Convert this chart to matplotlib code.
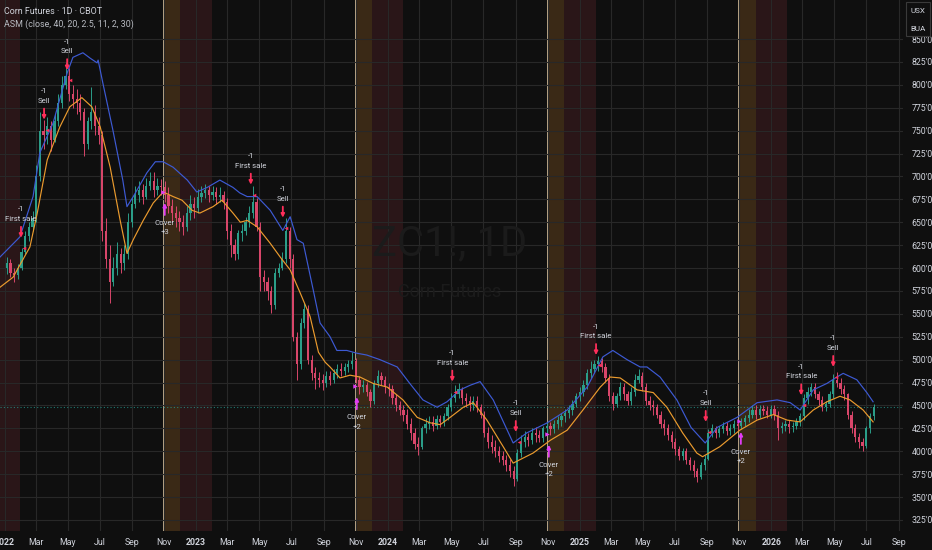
import numpy as np
import pandas as pd
import matplotlib
matplotlib.use("Agg")
import matplotlib.pyplot as plt
import matplotlib.dates as mdates
from matplotlib.ticker import FuncFormatter
from matplotlib.patches import Rectangle
from matplotlib.transforms import ScaledTranslation
from matplotlib import font_manager

avail = {f.name for f in font_manager.fontManager.ttflist}
FAM = [f for f in ["Liberation Sans Narrow", "Roboto", "DejaVu Sans"] if f in avail] or ["DejaVu Sans"]
plt.rcParams["font.family"] = FAM

# ---------------- data ----------------
first_week = "2022-01-05"
first_open = 600
closes = [
    605, 595, 592, 600, 618, 635, 645, 655, 700, 750,
    745, 755, 740, 760, 780, 800, 810, 790, 785, 780,
    770, 735, 760, 770, 755, 745, 640, 610, 585, 600,
    615, 605, 615, 650, 670, 680, 685, 678, 690, 695,
    685, 690, 688, 680, 668, 660, 655, 650, 645, 660,
    670, 665, 678, 682, 685, 680, 683, 678, 680, 672,
    640, 625, 615, 638, 640, 650, 660, 672, 645, 590,
    585, 575, 560, 595, 600, 610, 640, 610, 525, 495,
    540, 555, 500, 485, 480, 478, 475, 482, 478, 485,
    490, 488, 492, 495, 498, 478, 470, 472, 465, 455,
    475, 482, 478, 470, 468, 458, 450, 445, 440, 430,
    420, 408, 405, 425, 430, 432, 428, 435, 432, 438,
    448, 458, 462, 468, 458, 455, 450, 455, 448, 440,
    420, 410, 405, 400, 395, 390, 385, 378, 370, 398,
    410, 415, 412, 420, 418, 414, 425, 428, 424, 430,
    434, 438, 442, 445, 452, 460, 465, 472, 485, 490,
    495, 498, 492, 480, 460, 452, 460, 470, 462, 455,
    465, 478, 482, 470, 455, 450, 448, 440, 430, 425,
    418, 410, 402, 395, 400, 390, 385, 378, 372, 385,
    392, 420, 425, 420, 424, 428, 422, 425, 430, 428,
    432, 436, 440, 445, 440, 446, 444, 440, 446, 440,
    425, 428, 430, 426, 428, 432, 438, 458, 465, 470,
    462, 456, 448, 452, 462, 478, 475, 468, 462, 440,
    425, 415, 410, 406, 425, 438, 448,
]
highs = [
    612, 610, 600, 604, 622, 640, 650, 662, 712, 770,
    762, 765, 760, 768, 790, 810, 825, 818, 800, 795,
    790, 775, 765, 798, 778, 765, 750, 655, 625, 612,
    628, 622, 625, 660, 678, 690, 695, 692, 698, 705,
    705, 698, 697, 695, 688, 675, 668, 662, 658, 668,
    680, 678, 686, 690, 692, 690, 690, 688, 688, 684,
    676, 648, 632, 642, 648, 656, 668, 690, 676, 650,
    598, 590, 580, 600, 606, 618, 655, 645, 615, 530,
    545, 562, 560, 505, 492, 486, 484, 488, 488, 490,
    495, 496, 496, 500, 508, 502, 482, 478, 476, 468,
    478, 489, 486, 482, 475, 472, 462, 455, 450, 446,
    436, 425, 415, 428, 436, 438, 438, 440, 440, 442,
    452, 464, 472, 474, 470, 464, 460, 460, 460, 452,
    444, 426, 418, 412, 406, 400, 396, 392, 384, 402,
    418, 422, 420, 425, 426, 423, 428, 432, 432, 434,
    438, 442, 446, 450, 456, 464, 470, 478, 490, 498,
    500, 504, 502, 496, 484, 465, 464, 476, 474, 466,
    470, 484, 490, 486, 474, 460, 456, 452, 444, 435,
    430, 422, 414, 406, 404, 404, 394, 390, 382, 388,
    396, 424, 430, 428, 428, 432, 432, 430, 434, 434,
    436, 440, 446, 450, 450, 450, 450, 449, 450, 450,
    444, 432, 434, 434, 432, 436, 442, 462, 470, 475,
    474, 466, 460, 455, 466, 484, 486, 480, 472, 464,
    444, 430, 420, 414, 428, 442, 452,
]
lows = [
    594, 590, 585, 588, 598, 615, 630, 640, 650, 695,
    730, 735, 728, 738, 755, 775, 795, 782, 775, 768,
    762, 722, 730, 752, 745, 735, 630, 600, 562, 580,
    592, 595, 598, 610, 645, 665, 672, 670, 675, 685,
    678, 680, 680, 672, 660, 650, 645, 640, 636, 640,
    652, 655, 660, 672, 676, 672, 674, 670, 672, 664,
    632, 612, 609, 610, 630, 636, 645, 655, 640, 575,
    575, 565, 551, 555, 590, 598, 605, 600, 520, 478,
    490, 535, 495, 478, 468, 470, 467, 470, 472, 474,
    480, 482, 483, 486, 490, 474, 463, 465, 460, 448,
    452, 470, 472, 464, 460, 452, 444, 440, 433, 424,
    412, 402, 396, 402, 420, 424, 422, 424, 426, 428,
    434, 444, 454, 458, 452, 448, 444, 445, 443, 436,
    415, 404, 398, 394, 388, 385, 378, 372, 362, 368,
    394, 405, 406, 408, 410, 410, 410, 420, 418, 420,
    424, 428, 432, 436, 440, 448, 455, 460, 468, 480,
    485, 488, 486, 476, 455, 445, 448, 456, 456, 450,
    450, 460, 474, 466, 450, 445, 440, 436, 425, 418,
    412, 404, 396, 390, 390, 386, 380, 372, 366, 370,
    380, 390, 416, 414, 416, 420, 418, 418, 420, 422,
    424, 428, 432, 436, 435, 436, 439, 436, 436, 434,
    412, 420, 422, 420, 421, 424, 428, 434, 452, 460,
    458, 450, 444, 444, 448, 458, 470, 462, 456, 435,
    420, 410, 404, 400, 404, 420, 434,
]

upper_dates = [
    "2021-12-23", "2022-01-30", "2022-02-24", "2022-03-09", "2022-04-03", "2022-04-30",
    "2022-05-11", "2022-05-30", "2022-06-13", "2022-06-26", "2022-06-28", "2022-07-07",
    "2022-07-26", "2022-08-14", "2022-08-22", "2022-09-03", "2022-09-29", "2022-10-15",
    "2022-10-30", "2022-11-18", "2022-12-15", "2023-01-02", "2023-01-22", "2023-02-15",
    "2023-03-12", "2023-03-25", "2023-04-08", "2023-04-27", "2023-05-22", "2023-06-15",
    "2023-06-29", "2023-07-12", "2023-07-24", "2023-08-12", "2023-08-25", "2023-09-13",
    "2023-09-26", "2023-10-15", "2023-11-03", "2023-11-22", "2023-12-17", "2024-01-19",
    "2024-02-12", "2024-03-08", "2024-04-04", "2024-04-23", "2024-05-18", "2024-06-06",
    "2024-06-25", "2024-07-20", "2024-08-27", "2024-09-22", "2024-10-31", "2024-12-08",
    "2025-01-15", "2025-02-14", "2025-03-05", "2025-04-01", "2025-04-26", "2025-05-09",
    "2025-06-03", "2025-07-05", "2025-08-01", "2025-08-28", "2025-09-20", "2025-10-28",
    "2025-12-05", "2026-01-12", "2026-02-06", "2026-02-25", "2026-03-22", "2026-04-17",
    "2026-05-06", "2026-05-18", "2026-06-13", "2026-07-02", "2026-07-14",
]
upper_vals = [
    612, 634, 678, 726, 758, 813,
    830, 835, 829, 824, 827, 802,
    751, 696, 667, 678, 704, 716,
    716, 710, 696, 683, 688, 696,
    688, 682, 678, 678, 663, 641,
    656, 631, 627, 576, 540, 525,
    510, 510, 507, 505, 500, 492,
    474, 456, 448, 454, 467, 472,
    476, 456, 409, 420, 431, 445,
    470, 503, 510, 500, 492, 492,
    481, 456, 426, 409, 426, 437,
    453, 456, 453, 445, 467, 474,
    481, 485, 478, 464, 454,
]
ma_dates = [
    "2021-12-23", "2022-01-17", "2022-02-18", "2022-03-04", "2022-03-23", "2022-04-16",
    "2022-05-05", "2022-05-28", "2022-06-16", "2022-07-02", "2022-07-21", "2022-08-09",
    "2022-08-22", "2022-09-03", "2022-09-22", "2022-10-11", "2022-10-30", "2022-11-18",
    "2022-12-05", "2022-12-24", "2023-01-08", "2023-02-02", "2023-02-19", "2023-03-12",
    "2023-03-26", "2023-04-08", "2023-04-27", "2023-05-22", "2023-06-10", "2023-06-29",
    "2023-07-18", "2023-08-06", "2023-08-22", "2023-09-04", "2023-09-13", "2023-10-02",
    "2023-10-21", "2023-11-09", "2023-12-04", "2023-12-31", "2024-01-30", "2024-02-26",
    "2024-03-22", "2024-04-10", "2024-04-29", "2024-05-24", "2024-06-12", "2024-07-08",
    "2024-08-08", "2024-08-27", "2024-10-04", "2024-11-06", "2024-12-08", "2025-01-07",
    "2025-02-09", "2025-02-28", "2025-03-19", "2025-04-20", "2025-05-21", "2025-06-16",
    "2025-07-16", "2025-08-12", "2025-08-23", "2025-09-25", "2025-11-02", "2025-12-05",
    "2026-01-05", "2026-01-31", "2026-02-25", "2026-03-22", "2026-04-17", "2026-05-12",
    "2026-05-31", "2026-06-25", "2026-07-14",
]
ma_vals = [
    579, 590, 623, 660, 718, 754,
    776, 786, 776, 754, 710, 652,
    616, 631, 652, 671, 683, 678,
    674, 663, 660, 667, 674, 660,
    650, 652, 645, 627, 612, 598,
    573, 547, 508, 497, 492, 480,
    483, 481, 474, 470, 456, 437,
    431, 429, 437, 448, 453, 434,
    405, 387, 398, 412, 423, 445,
    470, 481, 480, 467, 464, 448,
    420, 398, 394, 405, 423, 434,
    440, 434, 432, 445, 454, 460,
    456, 445, 432,
]

sell_dates = ["2022-02-01", "2022-03-17", "2022-04-30", "2023-04-15", "2023-06-15", "2024-05-03",
              "2024-09-01", "2025-02-01", "2025-08-29", "2026-02-27", "2026-04-29"]
sell_prices = [633, 762, 816, 691, 655, 476, 421, 505, 432, 461, 492]
sell_names = ["First sale", "Sell", "Sell", "First sale", "Sell", "First sale",
              "Sell", "First sale", "Sell", "First sale", "Sell"]
sell_qty = ["-1"] * 11

cover_dates = ["2022-11-02", "2023-11-03", "2024-11-03", "2025-11-04"]
cover_prices = [671, 459, 407, 421]
cover_qty = ["+3", "+2", "+2", "+2"]

nov_starts = ["2022-11-01", "2023-11-01", "2024-11-01", "2025-11-01"]
nov_ends = ["2022-12-02", "2023-12-02", "2024-12-02", "2025-12-02"]
winter_starts = ["2021-12-01", "2022-12-02", "2023-12-02", "2024-12-02", "2025-12-02"]
winter_ends = ["2022-01-31", "2023-01-31", "2024-01-31", "2025-01-31", "2026-01-30"]

last_price = 448
price_ticks = list(range(325, 851, 25))

# ---------------- style ----------------
BG = "#0f0f0f"
GRID = "#282828"
TXT = "#d1d4dc"
UP = "#2b9d88"
DN = "#d8466a"
BLUE = "#3d5ad4"
ORANGE = "#eb9b2e"
SELLC = "#ff2e5a"
COVERC = "#e03cf5"

W, H = 932, 550
fig = plt.figure(figsize=(W / 100, H / 100), dpi=100, facecolor=BG)
ax = fig.add_axes([0, 19 / H, 903 / W, 531 / H])
ax.set_facecolor(BG)

x0 = mdates.date2num(pd.Timestamp("2021-12-23"))
x1 = mdates.date2num(pd.Timestamp("2026-09-09"))
ax.set_xlim(x0, x1)
ax.set_ylim(312.9, 892.6)

# seasonal bands
for s, e in zip(winter_starts, winter_ends):
    ax.axvspan(pd.Timestamp(s), pd.Timestamp(e), color="#2a1618", lw=0, zorder=0)
for s, e in zip(nov_starts, nov_ends):
    ax.axvspan(pd.Timestamp(s), pd.Timestamp(e), color="#3a2916", lw=0, zorder=0)
    ax.axvline(pd.Timestamp(s), color="#cdb694", lw=1.3, zorder=0.5)

# grid / axes
ax.set_yticks(price_ticks)
ax.xaxis.set_major_locator(mdates.MonthLocator(bymonth=[1, 3, 5, 7, 9, 11]))
def xfmt(v, pos):
    d = mdates.num2date(v)
    return d.strftime("%Y") if d.month == 1 else d.strftime("%b")
ax.xaxis.set_major_formatter(FuncFormatter(xfmt))
ax.yaxis.set_major_formatter(FuncFormatter(lambda v, p: f"{int(v)}'0"))
ax.grid(True, color=GRID, lw=0.8, zorder=0.6)
ax.set_axisbelow(True)
ax.yaxis.tick_right()
ax.tick_params(axis="both", length=0, colors=TXT, labelsize=6.3)
ax.tick_params(axis="y", pad=6)
ax.tick_params(axis="x", pad=5)
for lab in ax.get_xticklabels():
    if lab.get_text().isdigit():
        lab.set_fontweight("bold")
for sp in ax.spines.values():
    sp.set_visible(False)

# watermark
ax.text(0.498, 0.54, "ZC1!, 1D", transform=ax.transAxes, ha="center", va="center",
        fontsize=30, color="#1b1b1b", zorder=0.7)
ax.text(0.498, 0.45, "Corn Futures", transform=ax.transAxes, ha="center", va="center",
        fontsize=13, color="#1b1b1b", zorder=0.7)

# candles
dates = pd.date_range(first_week, periods=len(closes), freq="7D")
xd = mdates.date2num(dates)
c = np.array(closes, float)
o = np.array([first_open] + closes[:-1], float)
cols = np.where(c >= o, UP, DN)
ax.vlines(xd, lows, highs, colors=cols, lw=0.7, zorder=3)
ax.bar(xd, np.maximum(np.abs(c - o), 1.0), bottom=np.minimum(o, c), width=4.2,
       color=cols, lw=0, zorder=4)

# indicator lines
ax.plot(mdates.date2num(pd.to_datetime(upper_dates)), upper_vals, color=BLUE, lw=0.85, zorder=5)
ax.plot(mdates.date2num(pd.to_datetime(ma_dates)), ma_vals, color=ORANGE, lw=0.85, zorder=5)

# last price dotted line
ax.axhline(last_price, color="#26a69a", lw=0.8, ls=(0, (1, 2)), alpha=0.7, zorder=2)

PX = 0.72  # points per pixel
fs = 5.6
for d, p, name, q in zip(sell_dates, sell_prices, sell_names, sell_qty):
    xv = mdates.date2num(pd.Timestamp(d))
    ax.annotate("", xy=(xv, p), xytext=(0, 11 * PX), textcoords="offset points",
                arrowprops=dict(arrowstyle="-|>", color=SELLC, lw=1.3, mutation_scale=5,
                                shrinkA=0, shrinkB=0), zorder=7)
    ax.annotate(name, xy=(xv, p), xytext=(0, 19 * PX), textcoords="offset points",
                ha="center", va="center", fontsize=fs, color=TXT, zorder=8)
    ax.annotate(q, xy=(xv, p), xytext=(0, 28.5 * PX), textcoords="offset points",
                ha="center", va="center", fontsize=fs, color=TXT, zorder=8)
    tr = ax.transData + ScaledTranslation(3 / 100, -10 / 100, fig.dpi_scale_trans)
    ax.plot([xv], [p], marker="<", ms=2.6, color=SELLC, mew=0, transform=tr, zorder=7)

for d, p, q in zip(cover_dates, cover_prices, cover_qty):
    xv = mdates.date2num(pd.Timestamp(d))
    ax.annotate("", xy=(xv, p), xytext=(0, -12 * PX), textcoords="offset points",
                arrowprops=dict(arrowstyle="-|>", color=COVERC, lw=1.3, mutation_scale=5,
                                shrinkA=0, shrinkB=0), zorder=7)
    ax.annotate("Cover", xy=(xv, p), xytext=(0, -20 * PX), textcoords="offset points",
                ha="center", va="center", fontsize=fs, color=TXT, zorder=8)
    ax.annotate(q, xy=(xv, p), xytext=(0, -29.5 * PX), textcoords="offset points",
                ha="center", va="center", fontsize=fs, color=TXT, zorder=8)
    tr = ax.transData + ScaledTranslation(-2 / 100, 11 / 100, fig.dpi_scale_trans)
    ax.plot([xv], [p], marker=">", ms=3.2, color=COVERC, mew=0, transform=tr, zorder=7)

# header texts
fig.text(4 / W, 1 - 11 / H, "Corn Futures · 1D · CBOT", fontsize=6.4, color=TXT, va="center", ha="left")
fig.text(4 / W, 1 - 24 / H, "ASM (close, 40, 20, 2.5, 11, 2, 30)", fontsize=6.4, color="#b8bbc2",
         va="center", ha="left")

# top-right box
fig.add_artist(Rectangle((906 / W, 1 - 36 / H), 24 / W, 34 / H, transform=fig.transFigure,
                         facecolor=BG, edgecolor="#3a3a3a", lw=0.8, zorder=10))
fig.text(918 / W, 1 - 11 / H, "USX", fontsize=5.8, color=TXT, ha="center", va="center", zorder=11)
fig.text(918 / W, 1 - 29 / H, "BUA", fontsize=5.8, color=TXT, ha="center", va="center", zorder=11)

fig.savefig("out.png", dpi=100, facecolor=BG)
